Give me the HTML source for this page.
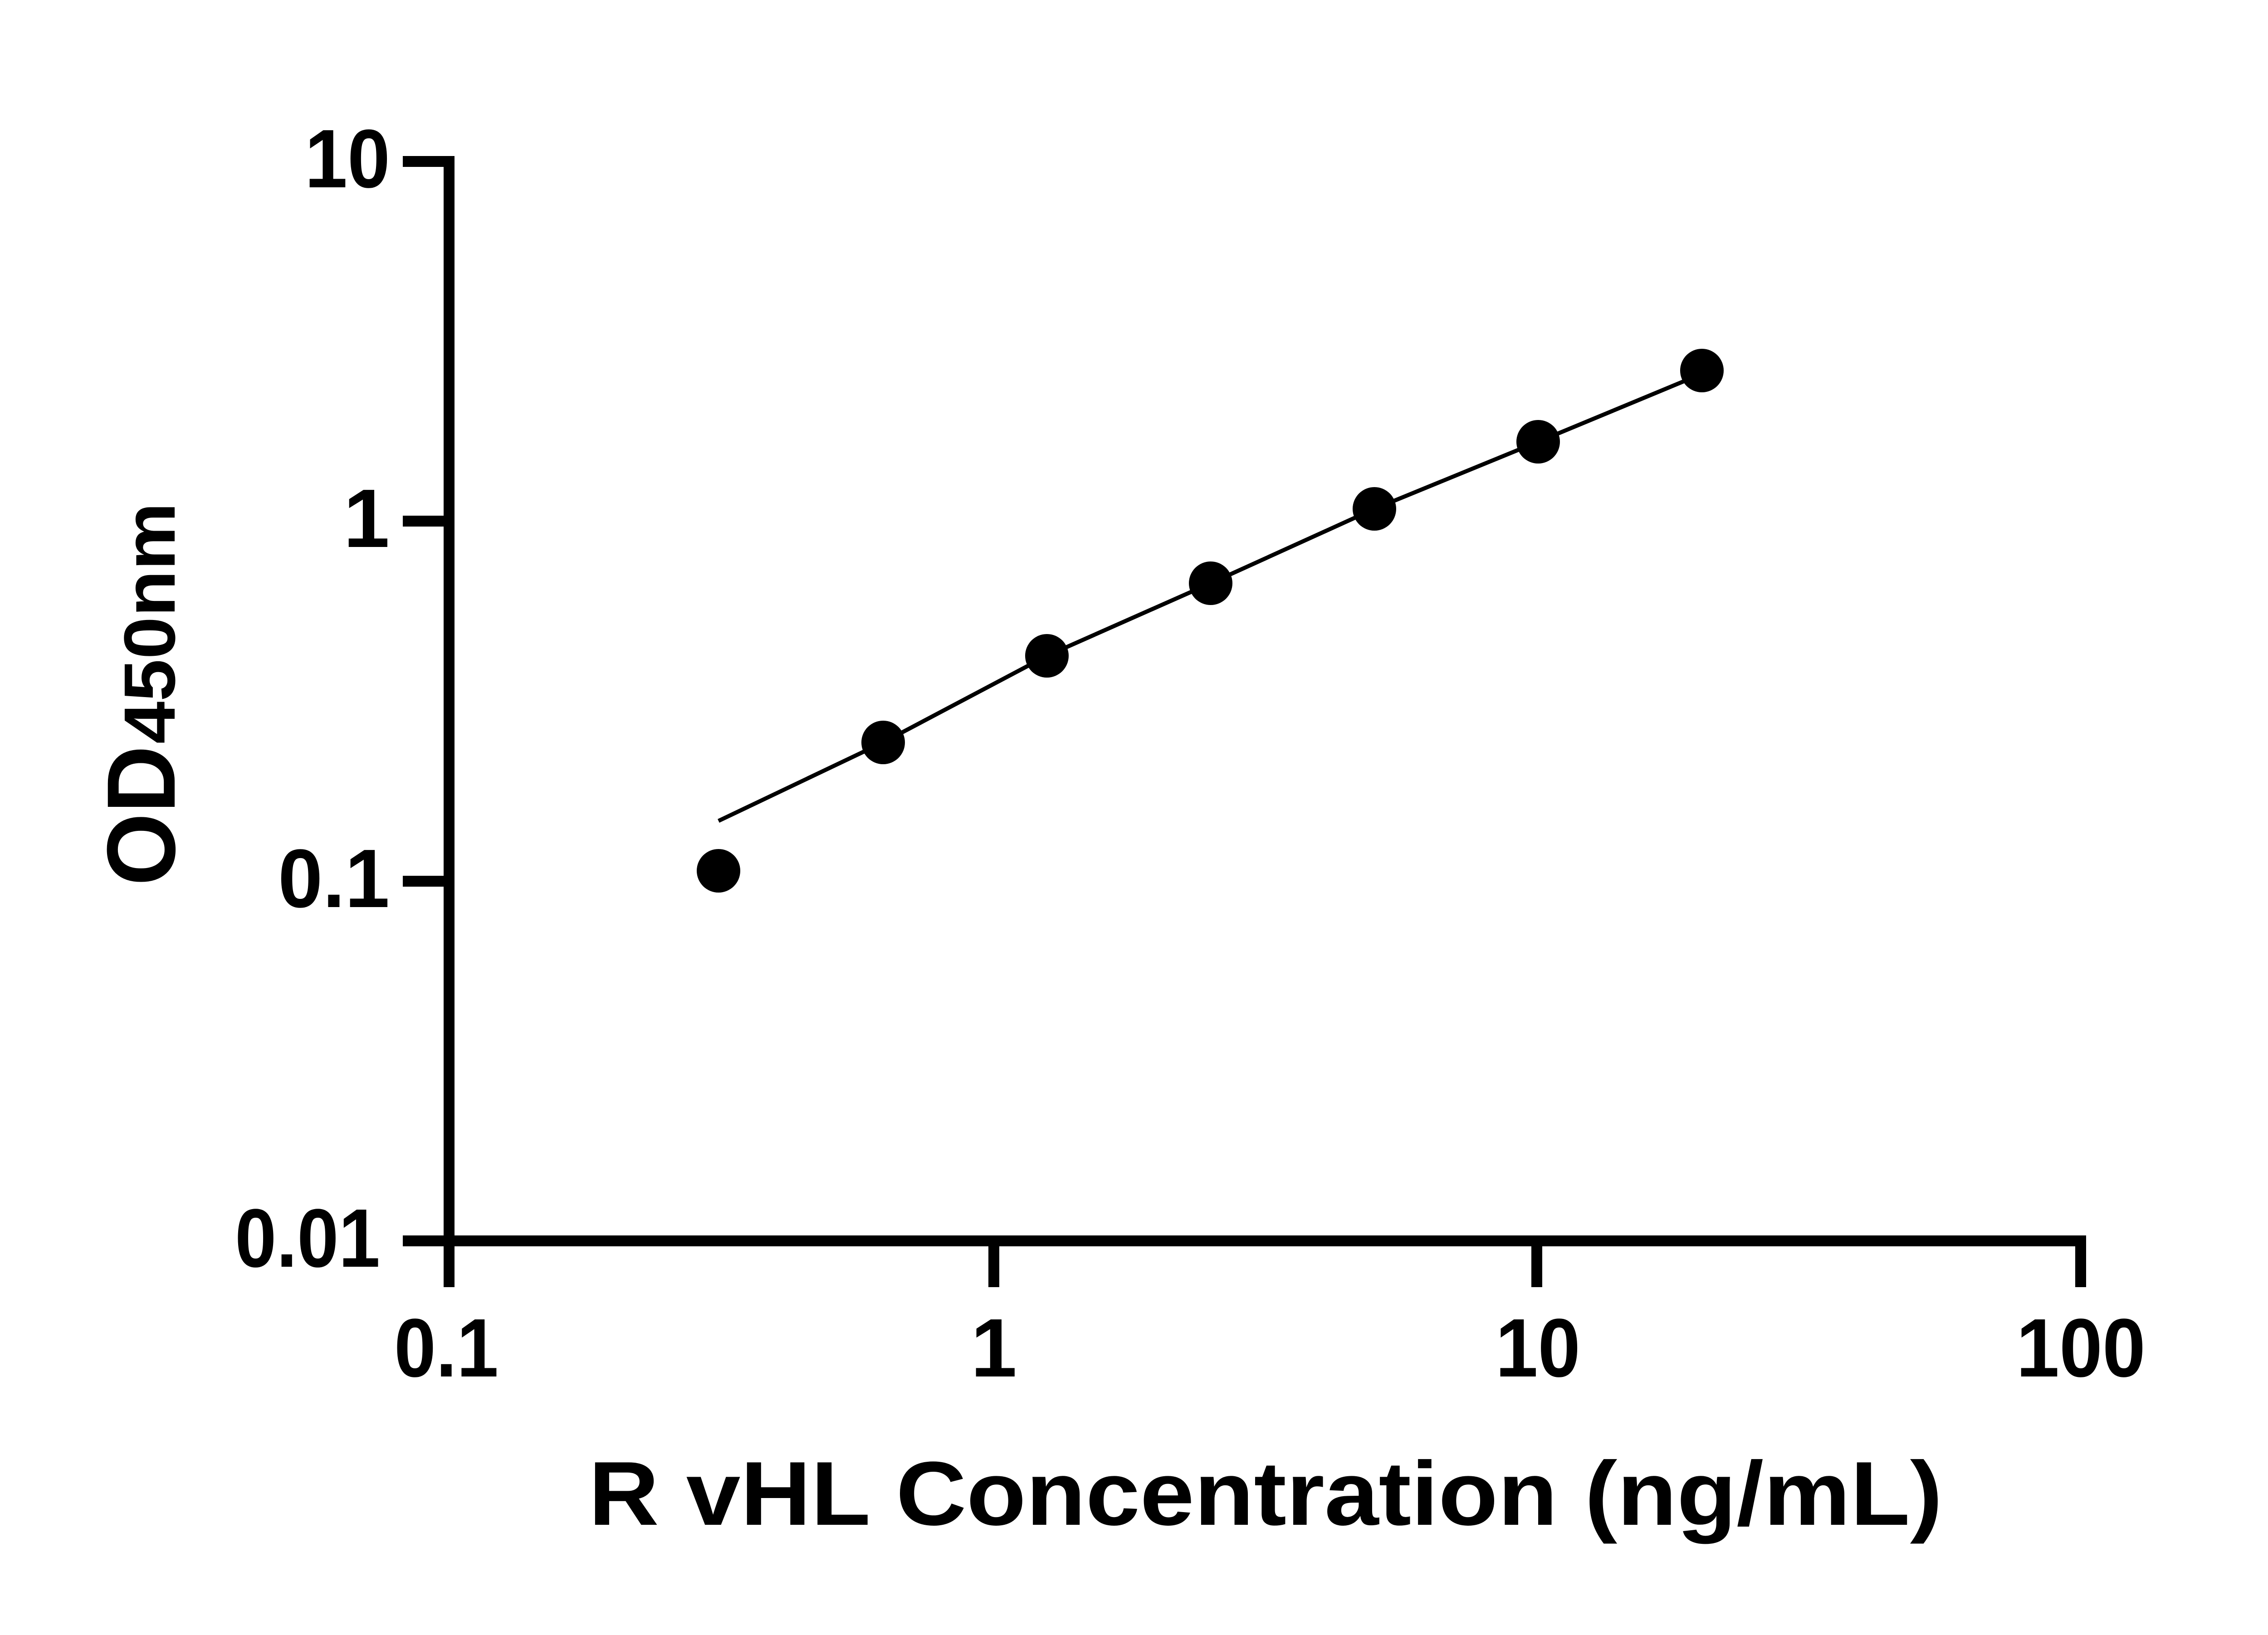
<!DOCTYPE html>
<html><head><style>html,body{margin:0;padding:0;background:#fff;}</style></head>
<body>
<svg width="5142" height="3600" viewBox="0 0 5142 3600" xmlns="http://www.w3.org/2000/svg">
<rect width="5142" height="3600" fill="#fff"/>
<g stroke="#000" stroke-width="24" fill="none" stroke-linecap="butt">
<line x1="990" y1="344" x2="990" y2="2838"/>
<line x1="978" y1="2736" x2="4599" y2="2736"/>
<line x1="888" y1="356" x2="990" y2="356"/>
<line x1="888" y1="1149" x2="990" y2="1149"/>
<line x1="888" y1="1943" x2="990" y2="1943"/>
<line x1="888" y1="2736" x2="990" y2="2736"/>
<line x1="2191" y1="2736" x2="2191" y2="2838"/>
<line x1="3388" y1="2736" x2="3388" y2="2838"/>
<line x1="4587" y1="2736" x2="4587" y2="2838"/>
</g>
<g font-family="Liberation Sans, Arial, sans-serif" font-weight="bold" font-size="183" fill="#000" lengthAdjust="spacingAndGlyphs">
<text x="672" y="413" textLength="188" lengthAdjust="spacingAndGlyphs">10</text>
<text x="859" y="1206" text-anchor="end">1</text>
<text x="613" y="2000" textLength="246" lengthAdjust="spacingAndGlyphs">0.1</text>
<text x="518" y="2793" textLength="320" lengthAdjust="spacingAndGlyphs">0.01</text>
<text x="869" y="3035" textLength="230" lengthAdjust="spacingAndGlyphs">0.1</text>
<text x="2191" y="3035" text-anchor="middle">1</text>
<text x="3297" y="3035" textLength="187" lengthAdjust="spacingAndGlyphs">10</text>
<text x="4445" y="3035" textLength="285" lengthAdjust="spacingAndGlyphs">100</text>
</g>
<text x="2790" y="3362" text-anchor="middle" font-family="Liberation Sans, Arial, sans-serif" font-weight="bold" font-size="200" textLength="2985" lengthAdjust="spacingAndGlyphs">R vHL Concentration (ng/mL)</text>
<g transform="translate(385,1953) rotate(-90)" font-family="Liberation Sans, Arial, sans-serif" font-weight="bold" fill="#000">
<text x="0" y="0" font-size="214" textLength="309" lengthAdjust="spacingAndGlyphs">OD</text>
<text x="313" y="0" font-size="160" textLength="532" lengthAdjust="spacingAndGlyphs">450nm</text>
</g>
<polyline fill="none" stroke="#000" stroke-width="9" points="1584,1810 1947,1637 2308,1446 2669,1286 3030,1122 3391,974 3750,825"/>
<g fill="#000">
<circle cx="1584" cy="1920" r="48"/>
<circle cx="1947" cy="1637" r="48"/>
<circle cx="2308" cy="1446" r="48"/>
<circle cx="2669" cy="1286" r="48"/>
<circle cx="3030" cy="1122" r="48"/>
<circle cx="3391" cy="974" r="48"/>
<circle cx="3752" cy="817" r="48"/>
</g>
</svg>
</body></html>
